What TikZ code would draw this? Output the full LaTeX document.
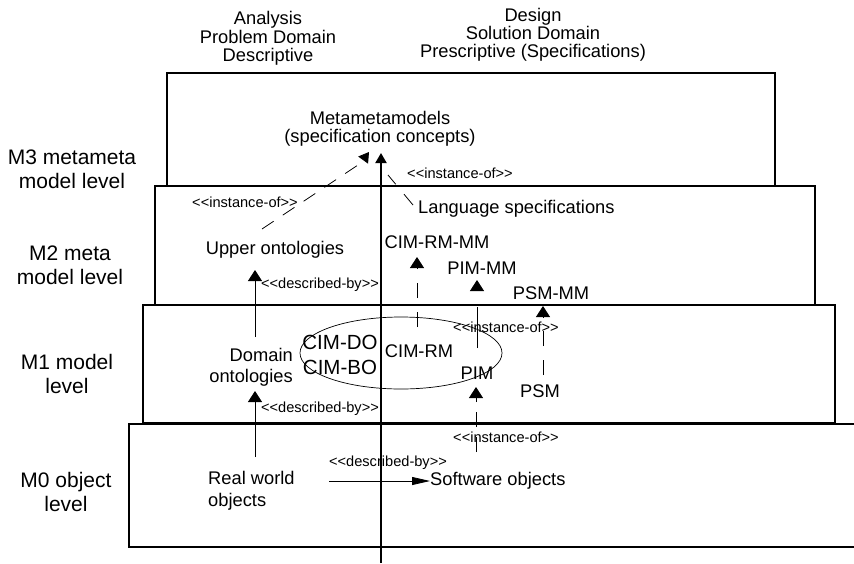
\documentclass[tikz,border=0pt]{standalone}
\usepackage{fontspec}
\setmainfont{Liberation Sans}
\usetikzlibrary{arrows.meta,shapes.geometric}

\begin{document}
\begin{tikzpicture}[x=1pt,y=-1pt,
  txt/.style={font=\fontsize{18.3}{18.5}\selectfont, inner sep=0pt, align=center},
  big/.style={font=\fontsize{20.5}{24}\selectfont, inner sep=0pt, align=center},
  lvl/.style={font=\fontsize{21}{24}\selectfont, inner sep=0pt, align=center},
  stereo/.style={font=\fontsize{14.6}{16}\selectfont, inner sep=0pt},
  frame/.style={draw, line width=1.1pt},
  tip/.style={-{Triangle[length=11pt,width=14pt]}},
  link/.style={line width=0.8pt, tip},
  dlink/.style={link, dash pattern=on 15pt off 14pt},
]
\useasboundingbox (0,0) rectangle (854,563);

% level frames
\draw[frame] (167,73) rectangle (775,186);
\draw[frame] (155,186) rectangle (815,305);
\draw[frame] (143,305) rectangle (835,423);
\draw[frame] (860,424) -- (129,424) -- (129,547) -- (860,547);

% column headings
\node[txt] (analysis) at (268,38.5) {Analysis\\Problem Domain\\Descriptive};
\node[txt, font=\fontsize{18.3}{18}\selectfont] (design) at (533,35) {Design\\Solution Domain\\Prescriptive (Specifications)};

% level names
\node[lvl] (m3) at (72,169.5) {M3 metameta\\model level};
\node[lvl] (m2) at (70,265) {M2 meta\\model level};
\node[lvl] (m1) at (67,373.5) {M1 model\\level};
\node[lvl] (m0) at (66,491.5) {M0 object\\level};

% M3 content
\node[txt, font=\fontsize{18.3}{18}\selectfont] (mmm) at (380,129) {Metametamodels\\(specification concepts)};
\node[stereo] (inst3) at (460,173) {<{}<instance-of>{}>};

% M2 content
\node[stereo] (inst2) at (245,202) {<{}<instance-of>{}>};
\node[txt, anchor=west] (lang) at (418,209) {Language specifications};
\node[txt] (upper) at (275,250) {Upper ontologies};
\node[stereo] (desc2) at (320,285) {<{}<described-by>{}>};
\node[txt] (cimrmmm) at (437,242) {CIM-RM-MM};
\node[txt] (pimmm) at (482,268) {PIM-MM};
\node[txt] (psmmm) at (551,293) {PSM-MM};

% M1 content
\node[draw, ellipse, line width=0.7pt, minimum width=202pt, minimum height=72pt, inner sep=0pt] (cimset) at (401,353) {};
\node[stereo] (inst1) at (506,327) {<{}<instance-of>{}>};
\node[big] (cimdo) at (340,342) {CIM-DO};
\node[big] (cimbo) at (340,367) {CIM-BO};
\node[txt] (cimrm) at (419,351) {CIM-RM};
\node[txt] (pim) at (477,373) {PIM};
\node[txt] (psm) at (540,391) {PSM};
\node[txt, align=right, anchor=east, font=\fontsize{18.3}{21}\selectfont] (domain) at (293,367.5) {Domain\\ontologies};
\node[stereo] (desc1) at (320,409) {<{}<described-by>{}>};

% M0 content
\node[txt, align=left, anchor=west, font=\fontsize{18.3}{22}\selectfont] (real) at (208,491) {Real world\\objects};
\node[stereo] (desc0) at (388,463) {<{}<described-by>{}>};
\node[txt, anchor=west] (soft) at (430,481) {Software objects};
\node[stereo] (inst0) at (506,437) {<{}<instance-of>{}>};

% connector end points
\coordinate (ax0) at (381,563);  \coordinate (ax1) at (381,153);
\coordinate (up0) at (262,229);  \coordinate (upk) at (361,163); \coordinate (up1) at (369,152);
\coordinate (lang0) at (413,205); \coordinate (lang1) at (388,175);
\coordinate (cim0) at (417,327); \coordinate (cim1) at (417,257);
\coordinate (pim0) at (477,348); \coordinate (pim1) at (477,280);
\coordinate (psm0) at (543,375); \coordinate (psm1) at (543,306);
\coordinate (sw0) at (476,452);  \coordinate (sw1) at (476,387);
\coordinate (do0) at (255,337);  \coordinate (do1) at (255,270);
\coordinate (rw0) at (255,457);  \coordinate (rw1) at (255,391);
\coordinate (h0) at (329,481);   \coordinate (h1) at (430,481);

% analysis / design divider
\draw[line width=2pt, -{Triangle[length=10pt,width=11pt]}] (ax0) -- (ax1);

% instance-of relations
\draw[line width=0.8pt, dash pattern=on 14pt off 11pt, -{Triangle[length=10pt,width=12pt]}] (up0) -- (upk) -- (up1);
\draw[line width=0.8pt, dash pattern=on 14pt off 13pt] (lang0) -- (lang1);
\draw[dlink] (cim0) -- (cim1);
\draw[link, dash pattern=on 41pt off 20pt] (pim0) -- (pim1);
\draw[dlink] (psm0) -- (psm1);
\draw[link, dash pattern=on 15pt off 10pt] (sw0) -- (sw1);

% described-by relations
\draw[link] (do0) -- (do1);
\draw[link] (rw0) -- (rw1);
\draw[line width=0.8pt, -{Triangle[length=18pt,width=8pt]}] (h0) -- (h1);
\end{tikzpicture}
\end{document}
